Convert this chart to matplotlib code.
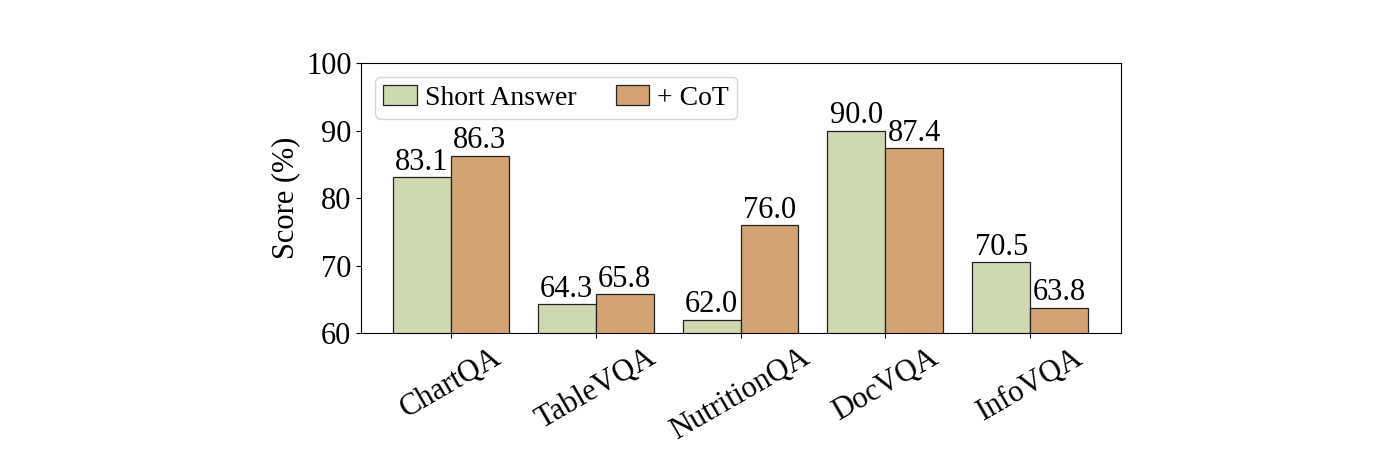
import matplotlib.pyplot as plt
import numpy as np

plt.rcParams['font.family'] = ['Liberation Serif', 'DejaVu Serif']

categories = ['ChartQA', 'TableVQA', 'NutritionQA', 'DocVQA', 'InfoVQA']
short_answer = [83.1, 64.3, 62.0, 90.0, 70.5]
cot = [86.3, 65.8, 76.0, 87.4, 63.8]

green = '#cfd8b0'
orange = '#d4a373'

fig = plt.figure(figsize=(14, 4.7), dpi=100)
ax = fig.add_axes([0.258, 0.291, 0.543, 0.575])

x = np.arange(len(categories))
w = 0.4
b1 = ax.bar(x - w / 2, short_answer, w, color=green, edgecolor='#222222', linewidth=0.9, label='Short Answer')
b2 = ax.bar(x + w / 2, cot, w, color=orange, edgecolor='#222222', linewidth=0.9, label='+ CoT')

for bars, vals in [(b1, short_answer), (b2, cot)]:
    for rect, v in zip(bars, vals):
        ax.text(rect.get_x() + rect.get_width() / 2, v + 0.05, f'{v:.1f}',
                ha='center', va='bottom', fontsize=22)

ax.set_ylim(60, 100)
ax.set_xlim(-0.62, 4.63)
ax.set_yticks([60, 70, 80, 90, 100])
ax.set_ylabel('Score (%)', fontsize=22)
ax.set_xticks(x)
ax.set_xticklabels(categories, rotation=30, ha='center', fontsize=22)
ax.tick_params(axis='y', labelsize=22)

ax.legend(loc='upper left', ncol=2, fontsize=20, handlelength=1.2,
          columnspacing=1.4, handletextpad=0.3, borderpad=0.3)

fig.savefig('out.png', dpi=100)
